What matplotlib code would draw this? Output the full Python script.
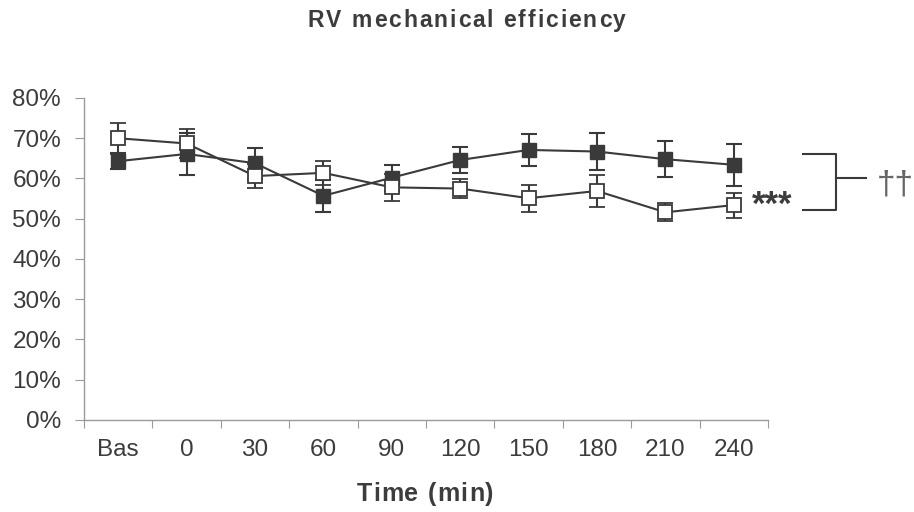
import matplotlib
matplotlib.use('Agg')
import matplotlib.pyplot as plt
import matplotlib.ticker as ticker
from matplotlib.transforms import IdentityTransform

plt.rcParams['font.family'] = ['Liberation Sans', 'DejaVu Sans']

CATEGORIES = ['Bas', '0', '30', '60', '90', '120', '150', '180', '210', '240']
FILLED_MEAN = [64.3, 66.1, 63.8, 55.7, 60.2, 64.6, 67.1, 66.7, 64.8, 63.4]
FILLED_ERR = [2.0, 5.2, 3.9, 3.9, 3.2, 3.3, 4.0, 4.7, 4.5, 5.2]
OPEN_MEAN = [70.0, 68.7, 60.6, 61.4, 57.8, 57.5, 55.1, 56.9, 51.6, 53.4]
OPEN_ERR = [3.9, 3.7, 2.9, 2.9, 3.3, 2.3, 3.3, 4.0, 2.2, 3.1]

DARK = '#3a3a3a'
TEXT = '#3c3c3c'
AXIS_GRAY = '#9a9a9a'


def spaced_text(fig, cx, baseline, s, gap, **kw):
  """Draw text centred on cx (pixels) with extra letter spacing."""
  r = fig.canvas.get_renderer()

  def width(t):
    tmp = fig.text(0, 0, t, **kw)
    w = tmp.get_window_extent(r).width
    tmp.remove()
    return w

  base = width('xx')
  adv = [width('x' + c + 'x') - base for c in s]
  total = sum(adv) + gap * (len(s) - 1)
  x = cx - total / 2
  for c, a in zip(s, adv):
    if c != ' ':
      fig.text(x, baseline, c, transform=IdentityTransform(),
               ha='left', va='baseline', **kw)
    x += a + gap


fig = plt.figure(figsize=(9.14, 5.12), dpi=100)
ax = fig.add_axes([0.0919, 0.1797, 0.7484, 0.6289])

x = list(range(len(CATEGORIES)))
ax.errorbar(x, FILLED_MEAN, yerr=FILLED_ERR, fmt='s-', color=DARK,
            mfc=DARK, mec=DARK, ms=9.5, lw=1.5, elinewidth=1.5,
            capsize=6, capthick=1.5, zorder=3)
ax.errorbar(x, OPEN_MEAN, yerr=OPEN_ERR, fmt='s-', color=DARK,
            mfc='white', mec=DARK, mew=1.3, ms=9.5, lw=1.5,
            elinewidth=1.5, capsize=6, capthick=1.5, zorder=4)

ax.set_xlim(-0.5, len(CATEGORIES) - 0.5)
ax.set_ylim(0, 80)
ax.set_yticks(range(0, 81, 10))
ax.yaxis.set_major_formatter(ticker.FuncFormatter(lambda v, _: f'{v:.0f}%'))
ax.set_xticks([i - 0.5 for i in range(len(CATEGORIES) + 1)])
ax.set_xticklabels([])
ax.set_xticks(x, minor=True)
ax.set_xticklabels(CATEGORIES, minor=True)
ax.tick_params(axis='x', which='minor', length=0, pad=14,
               labelsize=17.5, labelcolor=TEXT)
ax.tick_params(axis='x', which='major', length=6, color=AXIS_GRAY)
ax.tick_params(axis='y', length=6.5, color=AXIS_GRAY, pad=10,
               labelsize=17.5, labelcolor=TEXT)

for side in ['top', 'right']:
  ax.spines[side].set_visible(False)
for side in ['left', 'bottom']:
  ax.spines[side].set_color(AXIS_GRAY)
  ax.spines[side].set_linewidth(1)

spaced_text(fig, 467, 485, 'RV mechanical efficiency', 1.9,
            fontsize=16.5, fontweight='bold', color=TEXT)
spaced_text(fig, 425, 11, 'Time (min)', 1.2,
            fontsize=18, fontweight='bold', color=TEXT)

# Significance marks.
ax.text(9.56, 53.4, '***', ha='center', va='center', fontsize=25,
        fontweight='bold', color=TEXT, clip_on=False)
ax.plot([10.01, 10.49, 10.49, 10.01], [66.2, 66.2, 52.2, 52.2],
        color=DARK, lw=1.5, clip_on=False)
ax.plot([10.49, 10.93], [60.1, 60.1], color=DARK, lw=1.5,
        clip_on=False)
ax.text(11.36, 58.5, '\u2020\u2020', ha='center', va='center', fontsize=24,
        color='#666666', clip_on=False)

fig.savefig('out.png', dpi=100)
